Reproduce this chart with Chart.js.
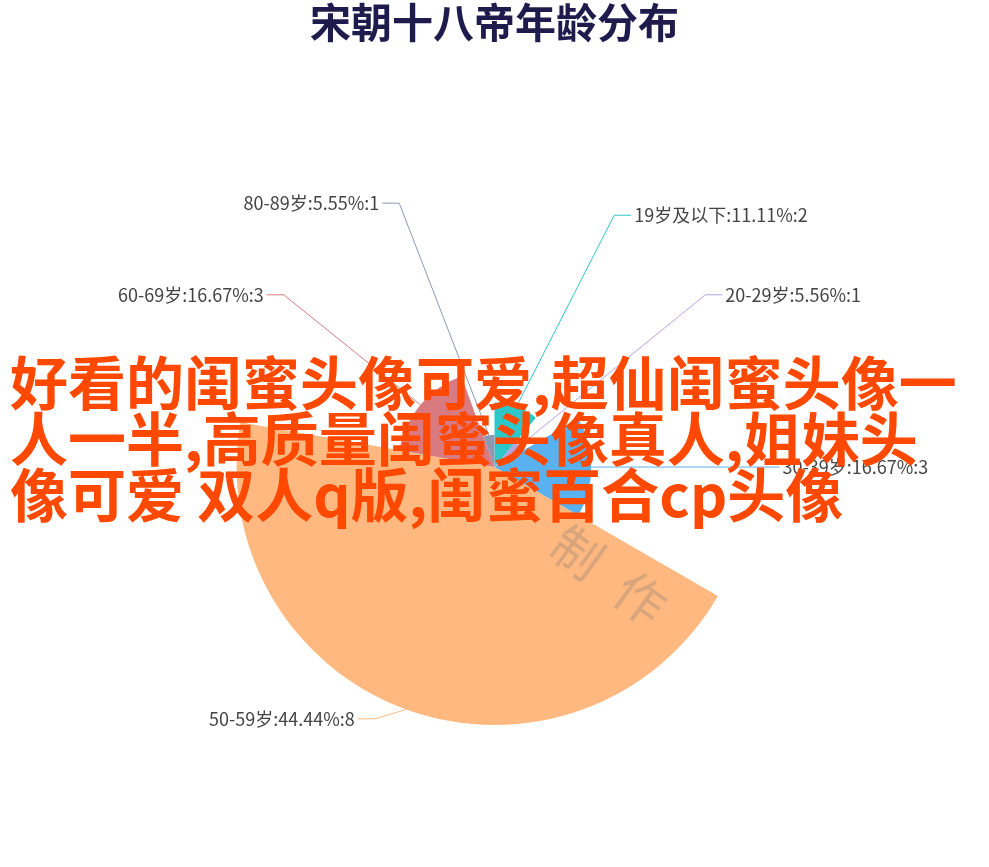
<!DOCTYPE html>
<html>
<head>
<meta charset="utf-8">
<title>宋朝十八帝年龄分布</title>
<script src="https://cdn.jsdelivr.net/npm/chart.js@4/dist/chart.umd.min.js"></script>
<style>
  html, body { margin: 0; padding: 0; background: #fff; }
  #wrap { position: relative; width: 989px; height: 867px; overflow: hidden; }
  #overlay {
    position: absolute; left: 10px; top: 352px;
    font: bold 58px 'Noto Sans CJK SC', sans-serif;
    line-height: 56px; color: #ff4800; white-space: nowrap;
  }
  #mark {
    position: absolute; left: 580px; top: 506px;
    font: 50px 'Noto Sans CJK SC', sans-serif; letter-spacing: 28px;
    color: rgba(110, 110, 110, 0.28);
    transform: rotate(36deg); transform-origin: 0 0; white-space: nowrap;
  }
</style>
</head>
<body>
<div id="wrap">
  <canvas id="chartAges"></canvas>
  <div id="mark">制作</div>
  <div id="overlay">好看的闺蜜头像可爱,超仙闺蜜头像一<br>人一半,高质量闺蜜头像真人,姐妹头<br>像可爱 双人q版,闺蜜百合cp头像</div>
</div>
<script>
'use strict';
const ageLabels    = ['19岁及以下', '20-29岁', '30-39岁', '50-59岁', '60-69岁', '80-89岁'];
const emperorCount = [2, 1, 3, 8, 3, 1];
const percentText  = ['11.11%', '5.56%', '16.67%', '44.44%', '16.67%', '5.55%'];
const sliceColors  = ['#2ec7c9', '#b6a2de', '#5ab1ef', '#ffb980', '#d87a80', '#8d98b3'];

// rose type: radius of each slice follows its value
const roseRadius = {
  id: 'roseRadius',
  afterDatasetUpdate(chart, args) {
    const meta = args.meta;
    const max = Math.max(...emperorCount);
    meta.$maxR = meta.controller.outerRadius;
    meta.data.forEach((arc, i) => {
      arc.outerRadius = meta.$maxR * emperorCount[i] / max;
    });
  },
};

// outside labels with guide lines (label x sits on a circle round the pie)
const outsideLabels = {
  id: 'outsideLabels',
  afterDatasetsDraw(chart) {
    const ctx = chart.ctx;
    const meta = chart.getDatasetMeta(0);
    const maxR = meta.$maxR;
    const rY = maxR + 10, rText = maxR + 30, len2 = 17, gap = 3;
    ctx.save();
    ctx.font = "18px 'Noto Sans CJK SC', sans-serif";
    ctx.textBaseline = 'middle';
    meta.data.forEach((arc, i) => {
      const mid = (arc.startAngle + arc.endAngle) / 2;
      const cos = Math.cos(mid), sin = Math.sin(mid);
      const x0 = arc.x + cos * arc.outerRadius, y0 = arc.y + sin * arc.outerRadius;
      const dir = cos >= -1e-6 ? 1 : -1;
      const y1 = arc.y + sin * rY;
      const dy = y1 - arc.y;
      const tx = arc.x + dir * Math.sqrt(rText * rText - dy * dy);
      const x1 = tx - dir * (len2 + gap);
      ctx.strokeStyle = sliceColors[i];
      ctx.lineWidth = 1;
      ctx.beginPath();
      ctx.moveTo(x0, y0); ctx.lineTo(x1, y1); ctx.lineTo(tx - dir * gap, y1);
      ctx.stroke();
      ctx.fillStyle = '#444';
      ctx.textAlign = dir > 0 ? 'left' : 'right';
      ctx.fillText(`${ageLabels[i]}:${percentText[i]}:${emperorCount[i]}`, tx, y1);
    });
    ctx.restore();
  },
};

new Chart(document.getElementById('chartAges'), {
  type: 'pie',
  data: {
    labels: ageLabels,
    datasets: [{
      data: emperorCount,
      backgroundColor: sliceColors,
      borderWidth: 0,
    }],
  },
  options: {
    responsive: true, maintainAspectRatio: false,
    animation: false,
    radius: '64.5%',
    layout: { padding: 0 },
    plugins: {
      legend: { display: false },
      tooltip: { enabled: false },
      title: {
        display: true,
        text: '宋朝十八帝年龄分布',
        color: '#1f1b4d',
        font: { family: "'Noto Sans CJK SC', sans-serif", size: 41, weight: 'bold', lineHeight: 1.1 },
        padding: { top: 0, bottom: 22 },
      },
    },
  },
  plugins: [roseRadius, outsideLabels],
});
</script>
</body>
</html>
